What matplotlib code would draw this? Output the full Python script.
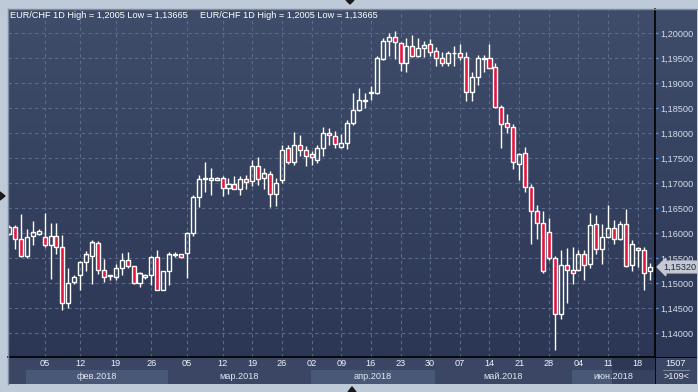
import numpy as np
import matplotlib
matplotlib.use("Agg")
import matplotlib.pyplot as plt
from matplotlib.patches import Rectangle, Polygon

plt.rcParams['font.family'] = ['Liberation Sans', 'DejaVu Sans']

# EUR/CHF daily candles
opens = [1.1599, 1.1612, 1.1587, 1.1554, 1.1593, 1.1599, 1.1591, 1.1577, 1.1593, 1.1571,
         1.1461, 1.1502, 1.1517, 1.1542, 1.1554, 1.1581, 1.1525, 1.1513, 1.1511, 1.1529,
         1.1545, 1.1533, 1.1500, 1.1512, 1.1515, 1.1551, 1.1486, 1.1523, 1.1557, 1.1557,
         1.1561, 1.1601, 1.1672, 1.1708, 1.1710, 1.1706, 1.1710, 1.1690, 1.1698, 1.1688,
         1.1708, 1.1704, 1.1733, 1.1710, 1.1719, 1.1678, 1.1706, 1.1769, 1.1743, 1.1776,
         1.1765, 1.1758, 1.1746, 1.1769, 1.1800, 1.1794, 1.1772, 1.1780, 1.1821, 1.1846,
         1.1864, 1.1881, 1.1881, 1.1948, 1.1984, 1.1992, 1.1979, 1.1941, 1.1973, 1.1953,
         1.1970, 1.1978, 1.1963, 1.1950, 1.1941, 1.1960, 1.1960, 1.1952, 1.1883, 1.1912,
         1.1948, 1.1950, 1.1932, 1.1851, 1.1819, 1.1811, 1.1739, 1.1759, 1.1692, 1.1644,
         1.1620, 1.1602, 1.1550, 1.1437, 1.1536, 1.1526, 1.1526, 1.1558, 1.1538, 1.1618,
         1.1568, 1.1591, 1.1610, 1.1588, 1.1618, 1.1536, 1.1570, 1.1566, 1.1523]
highs = [1.1615, 1.1616, 1.1638, 1.1608, 1.1624, 1.1608, 1.1640, 1.1620, 1.1620, 1.1595,
         1.1529, 1.1515, 1.1544, 1.1564, 1.1586, 1.1584, 1.1548, 1.1517, 1.1539, 1.1560,
         1.1562, 1.1534, 1.1522, 1.1518, 1.1554, 1.1566, 1.1524, 1.1562, 1.1562, 1.1559,
         1.1602, 1.1675, 1.1715, 1.1743, 1.1729, 1.1711, 1.1714, 1.1710, 1.1713, 1.1713,
         1.1715, 1.1745, 1.1752, 1.1729, 1.1724, 1.1710, 1.1776, 1.1776, 1.1803, 1.1797,
         1.1773, 1.1764, 1.1776, 1.1812, 1.1810, 1.1804, 1.1798, 1.1826, 1.1881, 1.1890,
         1.1881, 1.1895, 1.1954, 1.1990, 1.2000, 1.2005, 1.1982, 1.1990, 1.1997, 1.1989,
         1.1985, 1.1987, 1.1972, 1.1962, 1.1965, 1.1975, 1.1979, 1.1962, 1.1923, 1.1956,
         1.1956, 1.1979, 1.1940, 1.1856, 1.1839, 1.1818, 1.1760, 1.1772, 1.1699, 1.1655,
         1.1644, 1.1629, 1.1554, 1.1566, 1.1570, 1.1571, 1.1565, 1.1565, 1.1640, 1.1635,
         1.1618, 1.1657, 1.1626, 1.1623, 1.1648, 1.1585, 1.1571, 1.1571, 1.1540]
lows = [1.1596, 1.1568, 1.1552, 1.1550, 1.1576, 1.1596, 1.1571, 1.1507, 1.1558, 1.1445,
        1.1449, 1.1498, 1.1486, 1.1523, 1.1498, 1.1519, 1.1502, 1.1506, 1.1505, 1.1517,
        1.1530, 1.1499, 1.1492, 1.1508, 1.1495, 1.1485, 1.1485, 1.1496, 1.1552, 1.1549,
        1.1510, 1.1593, 1.1651, 1.1682, 1.1677, 1.1705, 1.1673, 1.1678, 1.1687, 1.1675,
        1.1688, 1.1694, 1.1695, 1.1688, 1.1651, 1.1653, 1.1700, 1.1739, 1.1737, 1.1754,
        1.1734, 1.1736, 1.1741, 1.1754, 1.1775, 1.1769, 1.1769, 1.1767, 1.1817, 1.1844,
        1.1849, 1.1865, 1.1879, 1.1946, 1.1955, 1.1948, 1.1925, 1.1923, 1.1952, 1.1952,
        1.1952, 1.1953, 1.1933, 1.1933, 1.1935, 1.1933, 1.1946, 1.1864, 1.1864, 1.1896,
        1.1923, 1.1929, 1.1849, 1.1770, 1.1800, 1.1727, 1.1705, 1.1682, 1.1579, 1.1587,
        1.1521, 1.1546, 1.13665, 1.1427, 1.1461, 1.1498, 1.1524, 1.1506, 1.1530, 1.1558,
        1.1538, 1.1590, 1.1579, 1.1585, 1.1531, 1.1523, 1.1531, 1.1485, 1.1506]
closes = [1.1612, 1.1587, 1.1554, 1.1591, 1.1601, 1.1604, 1.1577, 1.1593, 1.1571, 1.1461,
          1.1500, 1.1511, 1.1542, 1.1557, 1.1581, 1.1525, 1.1511, 1.1515, 1.1529, 1.1545,
          1.1533, 1.1500, 1.1519, 1.1515, 1.1551, 1.1486, 1.1523, 1.1557, 1.1559, 1.1551,
          1.1601, 1.1672, 1.1708, 1.1710, 1.1706, 1.1710, 1.1690, 1.1698, 1.1688, 1.1708,
          1.1702, 1.1733, 1.1708, 1.1719, 1.1678, 1.1700, 1.1766, 1.1743, 1.1776, 1.1765,
          1.1754, 1.1751, 1.1769, 1.1800, 1.1796, 1.1779, 1.1780, 1.1821, 1.1846, 1.1866,
          1.1866, 1.1883, 1.1950, 1.1984, 1.1992, 1.1982, 1.1940, 1.1973, 1.1953, 1.1970,
          1.1976, 1.1963, 1.1950, 1.1941, 1.1960, 1.1961, 1.1952, 1.1883, 1.1912, 1.1950,
          1.1950, 1.1930, 1.1851, 1.1819, 1.1811, 1.1742, 1.1759, 1.1692, 1.1644, 1.1620,
          1.1523, 1.1550, 1.1437, 1.1536, 1.1526, 1.1520, 1.1558, 1.1536, 1.1616, 1.1568,
          1.1591, 1.1610, 1.1588, 1.1618, 1.1533, 1.1578, 1.1566, 1.1521, 1.1532]

day_ticks = [6, 12, 18, 24, 30, 36, 41, 46, 51, 56, 61, 66, 71, 76, 81, 86, 91, 96, 101, 106]
day_labels = ['05', '12', '19', '26', '05', '12', '19', '26', '02', '09',
              '16', '23', '30', '07', '14', '21', '28', '04', '11', '18']
month_edges = [2.85, 26.8, 50.9, 71.8, 94.9, 108.9]
month_labels = ['фев.2018', 'мар.2018', 'апр.2018', 'май.2018', 'июн.2018']
price_ticks = [1.140, 1.145, 1.150, 1.155, 1.160, 1.165, 1.170, 1.175, 1.180, 1.185,
               1.190, 1.195, 1.200]

W, H = 698, 392


def box(x0, y0, x1, y1):
    return [x0 / W, 1 - y1 / H, (x1 - x0) / W, (y1 - y0) / H]


fig = plt.figure(figsize=(W / 100, H / 100), dpi=100, facecolor='#bfcad8')

# panel background with vertical gradient
bg = fig.add_axes(box(8, 9, 697, 384))
grad = np.linspace(0, 1, 256).reshape(-1, 1)
top = np.array([0x3f, 0x4d, 0x6a]) / 255
bot = np.array([0x2a, 0x35, 0x53]) / 255
img = top + (bot - top) * grad[:, :, None]
bg.imshow(img, aspect='auto', extent=[0, 1, 0, 1])
bg.set_xlim(0, 1)
bg.set_ylim(0, 1)
bg.axis('off')

ax = fig.add_axes(box(8, 9, 655, 357))
ax.set_facecolor('none')
ax.set_xlim(-0.17, 108.9)
ax.set_ylim(1.1352, 1.2048)

x = np.arange(len(opens))
o = np.array(opens)
c = np.array(closes)
hi = np.array(highs)
lo = np.array(lows)
up = c >= o
btop = np.maximum(o, c)
bbot = np.minimum(o, c)

ax.vlines(x, btop, hi, color='white', lw=1, zorder=3)
ax.vlines(x, lo, bbot, color='white', lw=1, zorder=3)
ax.bar(x[up], (btop - bbot)[up], bottom=bbot[up], width=0.68,
       facecolor='none', edgecolor='white', lw=1, zorder=4)
ax.bar(x[~up], (btop - bbot)[~up], bottom=bbot[~up], width=0.68,
       facecolor='#e3173d', edgecolor='white', lw=1, zorder=4)

ax.set_xticks(day_ticks)
ax.set_yticks(price_ticks)
ax.grid(True, color='#5a6b8c', lw=0.8, linestyle=(0, (3, 3)))
ax.set_axisbelow(True)
ax.yaxis.tick_right()
ax.set_yticklabels([f"{v:.5f}".replace('.', ',') for v in price_ticks])
ax.tick_params(axis='y', length=2, width=1, color='#4f8be0', pad=1.5,
               labelsize=6.6, labelcolor='#d5ddec')
ax.tick_params(axis='x', length=0, labelbottom=False)
for s in ['top', 'left', 'bottom']:
    ax.spines[s].set_visible(False)
ax.spines['right'].set_color('black')
ax.spines['right'].set_linewidth(1.2)

# last price tag
ax.annotate('1,15320', xy=(1, 1.1532), xycoords=('axes fraction', 'data'),
            xytext=(6, 0), textcoords='offset points', va='center', ha='left',
            fontsize=6.6, color='#1c2744',
            bbox=dict(boxstyle='larrow,pad=0.15', fc='#c4c9d2', ec='#c4c9d2'))

# title strings
ttl = 'EUR/CHF 1D High = 1,2005 Low = 1,13665'
fig.text(10 / W, 1 - 15 / H, ttl, color='white', fontsize=6.6, va='center')
fig.text(200 / W, 1 - 15 / H, ttl, color='white', fontsize=6.6, va='center')

# bottom time axis
axb = fig.add_axes(box(8, 357, 655, 384))
axb.set_xlim(ax.get_xlim())
axb.set_ylim(0, 1)
axb.set_facecolor('#3a4663')
for i in range(len(month_labels)):
    if i % 2 == 0:
        axb.axvspan(month_edges[i], month_edges[i + 1], ymin=0, ymax=0.52,
                    color='#4a5877', lw=0)
    axb.text((month_edges[i] + month_edges[i + 1]) / 2, 0.27, month_labels[i],
             ha='center', va='center', color='#e2e7f0', fontsize=6.6)
for t, lab in zip(day_ticks, day_labels):
    axb.text(t, 0.76, lab, ha='center', va='center', color='#eef2f8', fontsize=6.6)
axb.add_patch(Rectangle((101.6, 0), 7.3, 1, color='#1f2844', alpha=0.45, lw=0))
axb.set_xticks([])
axb.set_yticks([])
for s in axb.spines.values():
    s.set_visible(False)
axb.spines['top'].set_visible(True)
axb.spines['top'].set_color('black')
axb.spines['top'].set_linewidth(1.2)

# bottom right corner
axc = fig.add_axes(box(655, 357, 697, 384))
axc.set_facecolor('#3a4663')
axc.set_xlim(0, 1)
axc.set_ylim(0, 1)
axc.set_xticks([])
axc.set_yticks([])
for s in axc.spines.values():
    s.set_visible(False)
axc.axhline(1, color='black', lw=1.2)
axc.axvline(0, color='black', lw=1.2)
axc.text(0.5, 0.76, '1507', ha='center', va='center', color='#eef2f8', fontsize=6.6)
axc.plot([0.2, 0.8], [0.52, 0.52], color='#8794ad', lw=0.6)
axc.text(0.5, 0.27, '>109<', ha='center', va='center', color='#eef2f8', fontsize=6.6)

# frame markers
ov = fig.add_axes([0, 0, 1, 1])
ov.set_xlim(0, W)
ov.set_ylim(H, 0)
ov.axis('off')
ov.plot([7.5, 7.5], [9, 384], color='#7d8aa0', lw=1)
ov.plot([8, 697], [8.5, 8.5], color='#7d8aa0', lw=1)
ov.add_patch(Polygon([[346, 0], [354, 0], [350, 4]], color='#1a1a1a'))
ov.add_patch(Polygon([[348, 392], [356, 392], [352, 387]], color='#1a1a1a'))
ov.add_patch(Polygon([[0, 192], [0, 200], [5, 196]], color='#1a1a1a'))

fig.savefig('out.png', dpi=100)
